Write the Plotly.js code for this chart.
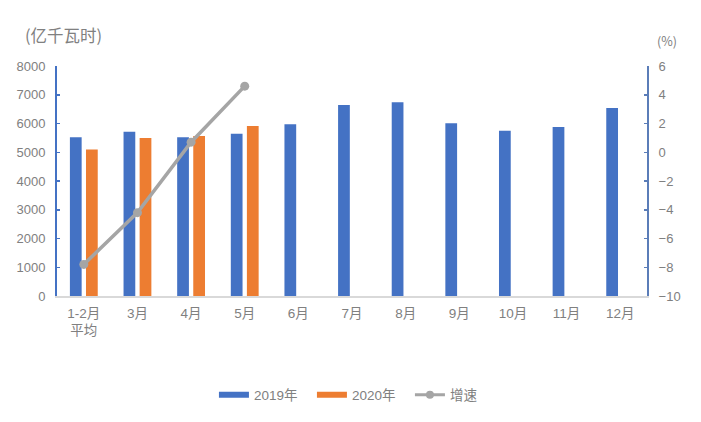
<!DOCTYPE html>
<html><head><meta charset="utf-8">
<script src="https://cdn.plot.ly/plotly-3.0.1.min.js"></script>
<style>html,body{margin:0;padding:0;background:#fff;}#chart{width:701px;height:422px;}</style>
</head><body><div id="chart"></div>
<script>
var categories = ['1-2月<br>平均','3月','4月','5月','6月','7月','8月','9月','10月','11月','12月'];
var values2019 = [5520, 5715, 5520, 5646, 5971, 6643, 6737, 6007, 5750, 5878, 6539];
var values2020 = [5100, 5496, 5565, 5913, null, null, null, null, null, null, null];
var growthCats = ['1-2月<br>平均','3月','4月','5月'];
var growth = [-7.8, -4.2, 0.7, 4.6];
var yTicks = [0,1000,2000,3000,4000,5000,6000,7000,8000];
var y2Ticks = [-10,-8,-6,-4,-2,0,2,4,6];

var fam = 'Liberation Sans, "Noto Sans CJK SC", sans-serif';
var font = {family: fam, size: 13, color: '#808080'};
var blue = '#4472C4', orange = '#ED7D31', gray = '#A5A5A5';
var traces = [
  {type:'bar', name:'2019年', x:categories, y:values2019, marker:{color:blue}, showlegend:false},
  {type:'bar', name:'2020年', x:categories, y:values2020, marker:{color:orange}, showlegend:false},
  {type:'scatter', mode:'lines+markers', name:'增速', x:growthCats, y:growth, yaxis:'y2',
   line:{color:gray, width:3.5}, marker:{color:gray, size:9}, showlegend:false},
  {type:'scatter', mode:'lines', name:'2019年', x:[null], y:[null], line:{color:blue, width:6}},
  {type:'scatter', mode:'lines', name:'2020年', x:[null], y:[null], line:{color:orange, width:6}},
  {type:'scatter', mode:'lines+markers', name:'增速', x:[null], y:[null], yaxis:'y2',
   line:{color:gray, width:3}, marker:{color:gray, size:8}}
];
var layout = {
  width:701, height:422,
  margin:{l:57, r:54, t:66, b:126},
  paper_bgcolor:'#fff', plot_bgcolor:'#fff',
  font: font,
  barmode:'group', bargap:0.40, bargroupgap:0.27,
  showlegend:true,
  legend:{orientation:'h', x:0.266, xanchor:'left', y:-0.43, yanchor:'middle',
          font:{family:fam, size:13.5, color:'#808080'}, traceorder:'normal', itemwidth:30,
          entrywidth:53, entrywidthmode:'pixels'},
  xaxis:{type:'category', range:[-0.5,10.5], showgrid:false, zeroline:false, showline:true,
         linecolor:'#D9D9D9', linewidth:1.5, ticks:'', tickfont:{family:fam, size:13.5, color:'#808080'},
         ticklabelstandoff:4},
  yaxis:{range:[0,8000], tickvals:yTicks, showgrid:false, zeroline:false, showline:true,
         linecolor:blue, linewidth:2, ticks:'inside', ticklen:3, tickcolor:blue, tickwidth:1.5,
         tickfont:font, ticklabelstandoff:7},
  yaxis2:{range:[-10,6], tickvals:y2Ticks, overlaying:'y', side:'right', showgrid:false, zeroline:false,
          showline:true, linecolor:'#5B7DB8', linewidth:2, ticks:'inside', ticklen:3, tickcolor:'#5B7DB8',
          tickwidth:1.5, tickfont:font, ticklabelstandoff:7},
  annotations:[
    {text:'(亿千瓦时)', xref:'paper', yref:'paper', x:-0.057, y:1.135, xanchor:'left', yanchor:'middle',
     showarrow:false, font:{family:'"Noto Sans CJK SC", sans-serif', size:16.5, color:'#808080'}},
    {text:'(%)', xref:'paper', yref:'paper', x:1.013, y:1.113, xanchor:'left', yanchor:'middle',
     showarrow:false, font:{family:'"Noto Sans CJK SC", sans-serif', size:12.5, color:'#808080'}}
  ]
};
Plotly.newPlot('chart', traces, layout, {displayModeBar:false, staticPlot:true});
</script></body></html>
